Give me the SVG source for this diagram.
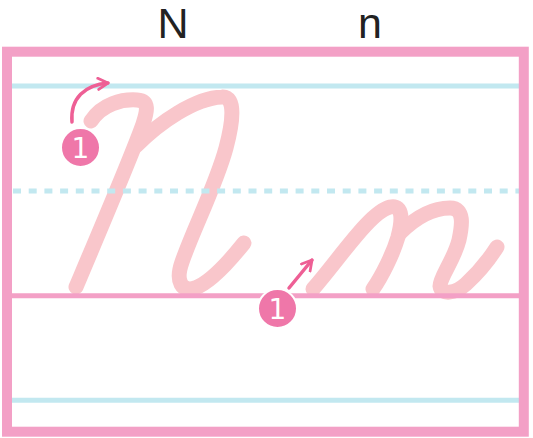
<svg xmlns="http://www.w3.org/2000/svg" width="533" height="438" viewBox="0 0 533 438">
<style>
.letter{fill:none;stroke:#f9c6cb;stroke-width:15;stroke-linecap:round;stroke-linejoin:round}
.blue{stroke:#c2e8f0;stroke-width:5}
.dash{stroke:#c2e8f0;stroke-width:5;stroke-dasharray:8 7.7}
.base{stroke:#f3a0c6;stroke-width:5}
.frame{fill:none;stroke:#f3a0c6;stroke-width:10}
.arrow{fill:none;stroke:#ee5f95;stroke-width:3.5;stroke-linecap:round}
.badge{fill:#ef77a9;stroke:#ffffff;stroke-width:2}
.num{font-family:"DejaVu Sans","Liberation Sans",sans-serif;font-size:28px;fill:#ffffff;text-anchor:middle}
.title{font-family:"Liberation Sans",Arial,sans-serif;font-size:43px;fill:#222222;text-anchor:middle}
</style>
<defs>
<marker id="head" viewBox="0 0 10 10" refX="8" refY="5" markerWidth="4" markerHeight="4" orient="auto" markerUnits="strokeWidth">
<path d="M1,1 L8,5 L1,9" fill="none" stroke="#ee5f95" stroke-width="2" stroke-linecap="round" stroke-linejoin="round"/>
</marker>
</defs>
<rect width="533" height="438" fill="#ffffff"/>
<g id="titles">
<text class="title" x="173" y="38">N</text>
<text class="title" x="370" y="38">n</text>
</g>
<g id="letter-N">
<path class="letter" d="M91,121 C102,104 122,99 137,100 C150,101 147,112 143,124 C132,155 98,235 76,287"/>
<path class="letter" d="M136,146 C160,122 195,98 222,97 C236,96 233,122 226,148 C216,185 193,230 182,262 C175,282 182,292 195,288 C212,282 232,258 244,243"/>
</g>
<g id="letter-n">
<path class="letter" d="M313,289 C340,258 370,212 390,207 C404,204 402,222 398,237 C393,254 382,276 373,289"/>
<path class="letter" d="M400,233 C418,215 435,208 450,208 C465,208 462,226 459,240 C454,260 440,277 440,286 C441,295 455,294 466,284 C478,273 490,258 497,247"/>
</g>
<g id="guides">
<line class="blue" x1="12" y1="86" x2="519" y2="86"/>
<line class="dash" x1="13" y1="191" x2="519" y2="191"/>
<line class="base" x1="12" y1="295.7" x2="519" y2="295.7"/>
<line class="blue" x1="12" y1="400.3" x2="519" y2="400.3"/>
<rect class="frame" x="7" y="51.7" width="516.8" height="380"/>
</g>
<g id="connectors">
<path class="arrow" d="M72,122 C70,98 85,85 108,83" marker-end="url(#head)"/>
<path class="arrow" d="M289,288 L312,260" marker-end="url(#head)"/>
</g>
<g id="badge-N">
<circle class="badge" cx="80.5" cy="147.5" r="19.5"/>
<text class="num" x="80.5" y="157.5">1</text>
</g>
<g id="badge-n">
<circle class="badge" cx="277.5" cy="308.5" r="19.5"/>
<text class="num" x="277.5" y="318.5">1</text>
</g>
</svg>
